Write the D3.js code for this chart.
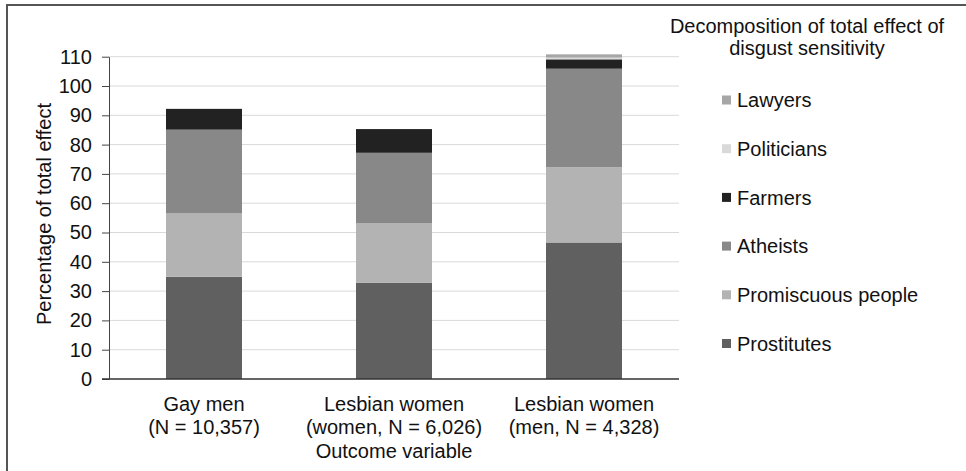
<!DOCTYPE html>
<html>
<head>
<meta charset="utf-8">
<script src="https://cdn.jsdelivr.net/npm/d3@7"></script>
<style>
  body { margin: 0; background: #fff; }
  text { font-family: "Liberation Sans", Arial, sans-serif; fill: #111; }
</style>
</head>
<body>
<div id="chart"></div>
<script>
// outcome groups (two-line labels)
var groups = ["Gay men", "Lesbian women (women)", "Lesbian women (men)"];
var groupLine1 = ["Gay men", "Lesbian women", "Lesbian women"];
var groupLine2 = ["(N = 10,357)", "(women, N = 6,026)", "(men, N = 4,328)"];

// stack order bottom -> top
var seriesNames = ["Prostitutes", "Promiscuous people", "Atheists", "Farmers", "Politicians", "Lawyers"];
var prostitutes = [34.9, 32.8, 46.6];
var promiscuous = [21.6, 20.3, 25.7];
var atheists    = [28.6, 24.1, 33.6];
var farmers     = [7.1, 8.1, 3.2];
var politicians = [0, 0, 0.6];
var lawyers     = [0, 0, 1.1];
var colors = ["#606060", "#b3b3b3", "#888888", "#222222", "#d9d9d9", "#a6a6a6"];

var yTicks = d3.range(0, 111, 10);

var W = 966, H = 471;
var fs = "20px";
var svg = d3.select("#chart").append("svg").attr("width", W).attr("height", H);

// outer frame (only top and left edges fall inside the picture)
svg.append("rect").attr("x", 7).attr("y", 5).attr("width", W + 20).attr("height", H + 20)
  .attr("fill", "none").attr("stroke", "#555").attr("stroke-width", 2);

var x = d3.scaleBand().domain(groups).range([109, 679]).paddingInner(0.6).paddingOuter(0.3);
var y = d3.scaleLinear().domain([0, 110]).range([379, 56.7]);

var values = [prostitutes, promiscuous, atheists, farmers, politicians, lawyers];
var rows = groups.map(function(g, i) {
  var r = {group: g};
  seriesNames.forEach(function(s, j) { r[s] = values[j][i]; });
  return r;
});
var stacked = d3.stack().keys(seriesNames)(rows);

// gridlines
svg.append("g").selectAll("line").data(yTicks.slice(1)).join("line")
  .attr("x1", 109).attr("x2", 679)
  .attr("y1", function(d) { return y(d); }).attr("y2", function(d) { return y(d); })
  .attr("stroke", "#d9d9d9").attr("stroke-width", 1);

// bars
svg.append("g").selectAll("g").data(stacked).join("g")
  .attr("fill", function(d, i) { return colors[i]; })
  .selectAll("rect").data(function(d) { return d; }).join("rect")
  .attr("x", function(d) { return x(d.data.group); })
  .attr("width", x.bandwidth())
  .attr("y", function(d) { return y(d[1]); })
  .attr("height", function(d) { return Math.max(0, y(d[0]) - y(d[1])); });

// y axis
var yAxis = svg.append("g").attr("transform", "translate(109,0)")
  .call(d3.axisLeft(y).tickValues(yTicks).tickSize(7).tickSizeOuter(0).tickPadding(10));
yAxis.select(".domain").attr("stroke", "#444");
yAxis.selectAll(".tick line").attr("stroke", "#444");
yAxis.selectAll("text").style("font-size", fs).attr("fill", "#111");

// x baseline
svg.append("line").attr("x1", 102).attr("x2", 679).attr("y1", y(0)).attr("y2", y(0))
  .attr("stroke", "#333").attr("stroke-width", 1.5);

// x labels
var xl = svg.append("g");
groups.forEach(function(g, i) {
  var cx = x(g) + x.bandwidth() / 2;
  xl.append("text").attr("x", cx).attr("y", 411).attr("text-anchor", "middle")
    .style("font-size", fs).text(groupLine1[i]);
  xl.append("text").attr("x", cx).attr("y", 434).attr("text-anchor", "middle")
    .style("font-size", fs).text(groupLine2[i]);
});
svg.append("text").attr("x", x(groups[1]) + x.bandwidth() / 2).attr("y", 458)
  .attr("text-anchor", "middle").style("font-size", fs).text("Outcome variable");

// y title
svg.append("text").attr("transform", "translate(51,214) rotate(-90)")
  .attr("text-anchor", "middle").style("font-size", fs).text("Percentage of total effect");

// legend
svg.append("text").attr("x", 807).attr("y", 33).attr("text-anchor", "middle")
  .style("font-size", fs).text("Decomposition of total effect of");
svg.append("text").attr("x", 807).attr("y", 55).attr("text-anchor", "middle")
  .style("font-size", fs).text("disgust sensitivity");

var legendOrder = seriesNames.slice().reverse();
var lg = svg.append("g").selectAll("g").data(legendOrder).join("g")
  .attr("transform", function(d, i) { return "translate(722," + (100 + i * 48.7) + ")"; });
lg.append("rect").attr("x", 0).attr("y", -4.5).attr("width", 9).attr("height", 9)
  .attr("fill", function(d) { return colors[seriesNames.indexOf(d)]; });
lg.append("text").attr("x", 15).attr("y", 0).attr("dy", "0.36em")
  .style("font-size", fs).text(function(d) { return d; });
</script>
</body>
</html>
